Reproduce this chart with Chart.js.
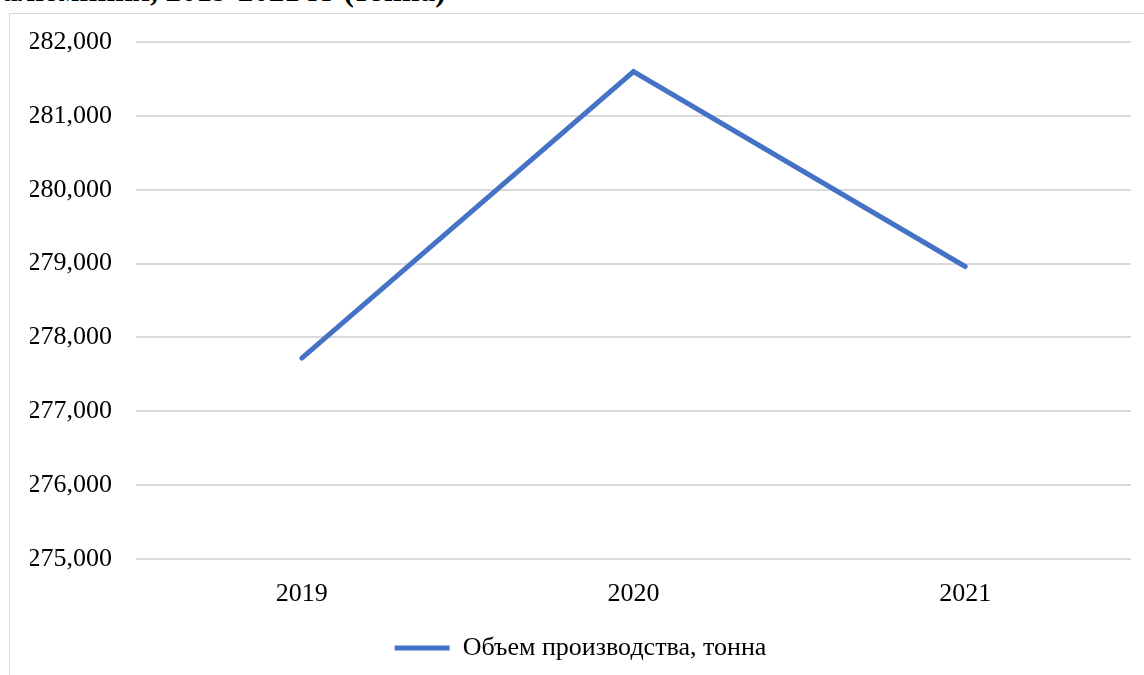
<!DOCTYPE html>
<html>
<head>
<meta charset="utf-8">
<script src="https://cdn.jsdelivr.net/npm/chart.js@4/dist/chart.umd.min.js"></script>
<style>
  html, body { margin: 0; padding: 0; background: #fff; overflow: hidden; }
  body { width: 1144px; height: 675px; position: relative; }
  .title {
    position: absolute; left: 2px; top: -27px;
    font: bold 31px "Liberation Serif", serif; color: #000; white-space: nowrap;
  }
  .frame {
    position: absolute; left: 9px; top: 13px; width: 1160px; height: 700px;
    border: 1px solid #d9d9d9; box-sizing: border-box;
  }
  #wrap { position: absolute; left: 0; top: 0; width: 1144px; height: 675px; }
</style>
</head>
<body>
<div class="title">алюминия, 2019-2021 гг (тонна)</div>
<div class="frame"></div>
<div id="wrap"><canvas id="prodChart"></canvas></div>
<script>
const years = ["2019", "2020", "2021"];
const volume = [277720, 281600, 278960]; // тонна
const seriesName = "Объем производства, тонна";

const lineColor = "#4472C4";
const serif = "'Liberation Serif', 'Times New Roman', serif";

new Chart("prodChart", {
  type: "line",
  data: {
    labels: years,
    datasets: [
      {
        label: seriesName,
        data: volume,
        borderColor: lineColor,
        backgroundColor: lineColor,
        borderWidth: 5,
        pointRadius: 0,
        pointStyle: "line",
        tension: 0,
        borderCapStyle: "round",
      },
    ],
  },
  options: {
    responsive: true,
    maintainAspectRatio: false,
    animation: false,
    layout: { padding: { top: 42, right: 13, bottom: 4, left: 30 } },
    plugins: {
      legend: {
        position: "bottom",
        labels: {
          color: "#000",
          font: { family: serif, size: 26 },
          usePointStyle: true,
          pointStyleWidth: 55,
          padding: 10,
        },
      },
      tooltip: { enabled: false },
    },
    scales: {
      x: {
        offset: true,
        grid: { display: false },
        border: { display: false },
        ticks: { color: "#000", font: { family: serif, size: 26 }, padding: 12 },
        afterFit: (s) => { s.height = 66; },
      },
      y: {
        min: 275000,
        max: 282000,
        grid: { color: "#d9d9d9", lineWidth: 2, drawTicks: false },
        border: { display: false },
        ticks: {
          stepSize: 1000,
          color: "#000",
          padding: 24,
          font: { family: serif, size: 26 },
          callback: (v) => new Intl.NumberFormat("en-US").format(v),
        },
        afterFit: (s) => { s.width = 106; },
      },
    },
  },
});
</script>
</body>
</html>
